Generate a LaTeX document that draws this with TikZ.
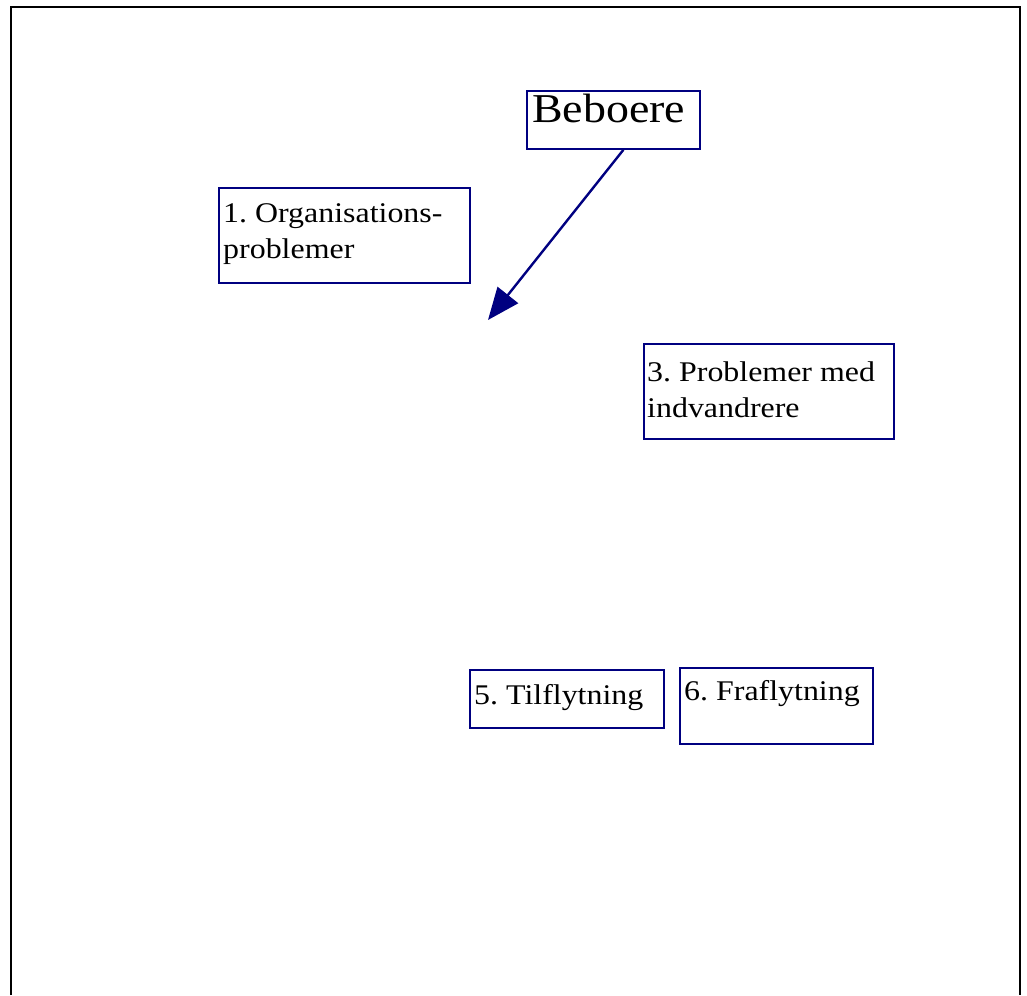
\documentclass[tikz,border=0pt]{standalone}
\usepackage{fontspec}
\setmainfont[FakeStretch=1.12]{Liberation Serif}
\usetikzlibrary{arrows.meta}
\definecolor{boxblue}{RGB}{0,0,128}
\tikzset{
  box/.style={draw=boxblue, line width=1.8pt, anchor=north west, inner sep=0pt},
  label/.style={anchor=base west, inner sep=0pt, align=left, font=\fontsize{28.5}{36}\selectfont},
  link/.style={draw=boxblue, line width=2.4pt, -{Triangle[length=32pt,width=26pt]}},
  frame/.style={line width=2.2pt, black}
}
\frenchspacing
\begin{document}
\begin{tikzpicture}[x=1pt,y=-1pt]
\useasboundingbox (0,0) rectangle (1027,995);
% outer frame, open at the bottom
\coordinate (fbl) at (11,995);
\coordinate (ftl) at (11,7);
\coordinate (ftr) at (1020,7);
\coordinate (fbr) at (1020,995);
\draw[frame] (fbl) -- (ftl) -- (ftr) -- (fbr);

% boxes
\node[box, minimum width=173pt, minimum height=58pt] (beb) at (526,90) {};
\node[box, minimum width=251pt, minimum height=95pt] (org) at (218,187) {};
\node[box, minimum width=250pt, minimum height=95pt] (ind) at (643,343) {};
\node[box, minimum width=194pt, minimum height=58pt] (til) at (469,669) {};
\node[box, minimum width=193pt, minimum height=76pt] (fra) at (679,667) {};

% texts (the base anchor of a two-line label sits on its second line)
\node[label, font=\fontsize{41}{44}\selectfont] (tbeb) at ([shift={(6,33)}]beb.north west) {Beboere};
\node[label] (torg) at ([shift={(5,71)}]org.north west) {1. Organisations-\\problemer};
\node[label] (tind) at ([shift={(4,74)}]ind.north west) {3. Problemer med\\indvandrere};
\node[label] (ttil) at ([shift={(5,35)}]til.north west) {5. Tilflytning};
\node[label] (tfra) at ([shift={(5,33)}]fra.north west) {6. Fraflytning};

% arrow from Beboere
\coordinate (tip) at (488,320);
\draw[link] (beb.south) ++(10,0) coordinate (bsrc) -- (tip);
\end{tikzpicture}
\end{document}
